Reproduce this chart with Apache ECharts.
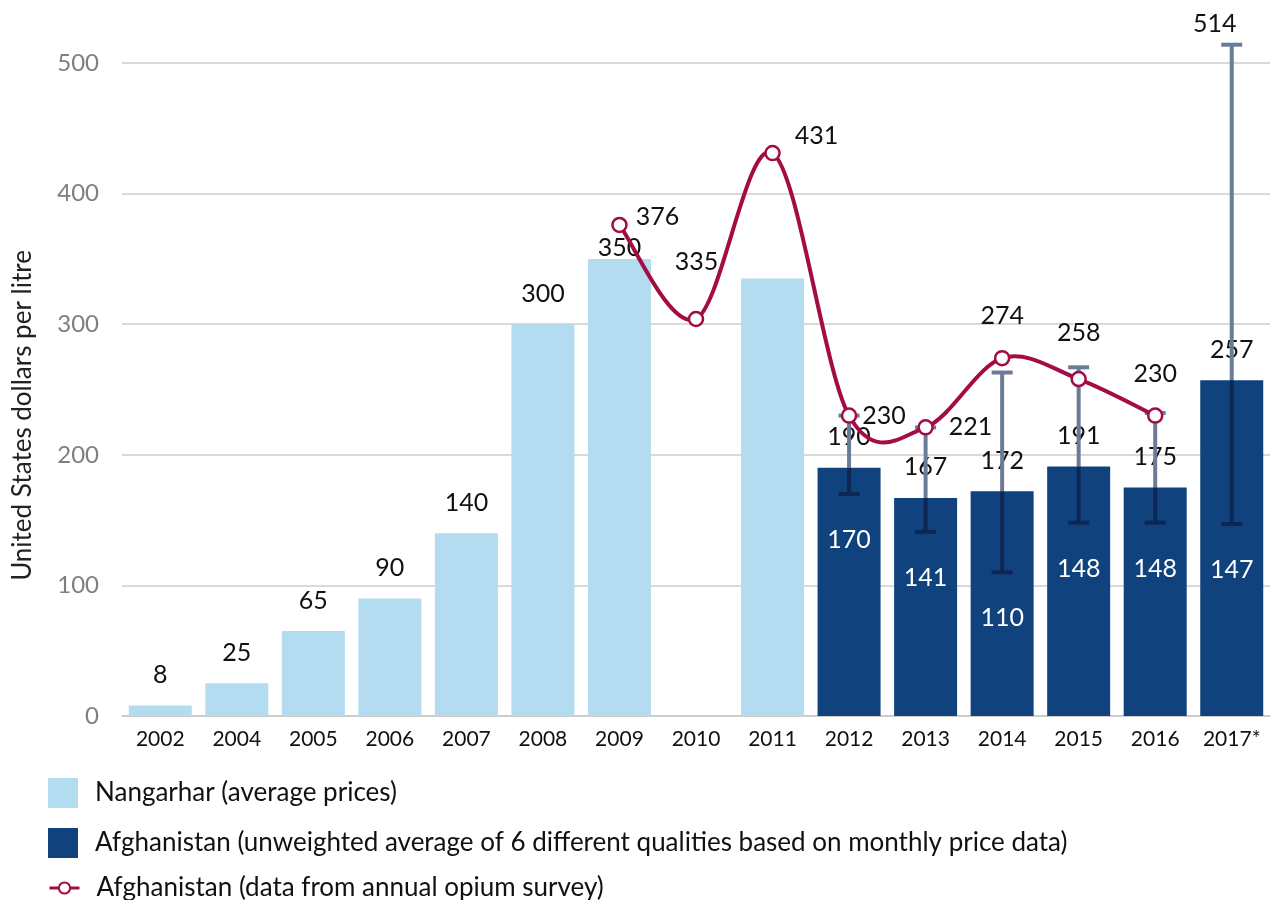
<!DOCTYPE html>
<html>
<head>
<meta charset="utf-8">
<script src="https://cdn.jsdelivr.net/npm/echarts@6/dist/echarts.min.js"></script>
<style>
  html, body { margin: 0; padding: 0; background: #fff; }
  #main { width: 1272px; height: 900px; }
</style>
</head>
<body>
<div id="main"></div>
<script>
// categories + values
var years = ['2002', '2004', '2005', '2006', '2007', '2008', '2009', '2010', '2011',
             '2012', '2013', '2014', '2015', '2016', '2017*'];
var nangarhar = [8, 25, 65, 90, 140, 300, 350, null, 335, null, null, null, null, null, null];
var afgMonthly = [null, null, null, null, null, null, null, null, null, 190, 167, 172, 191, 175, 257];
var afgSurvey = [null, null, null, null, null, null, 376, 304, 431, 230, 221, 274, 258, 230, null];
// min / max of the 6 qualities (error bars), 2012 - 2017*
var rangeYears = ['2012', '2013', '2014', '2015', '2016', '2017*'];
var rangeLow = [170, 141, 110, 148, 148, 147];
var rangeHigh = [230, 221, 263, 267, 232, 514];
var yTicks = [0, 100, 200, 300, 400, 500];

var NAME_N = 'Nangarhar (average prices)';
var NAME_M = 'Afghanistan (unweighted average of 6 different qualities based on monthly price data)';
var NAME_S = 'Afghanistan (data from annual opium survey)';

var LIGHT = '#b3dcf0';
var DARK = '#10427d';
var RED = '#a30c44';
var ERR_UP = '#6b7c98';
var ERR_IN = '#0d2754';
var FONT = 'Lato, "Open Sans", sans-serif';

var myChart = echarts.init(document.getElementById('main'));

// label tweaks, as in the original (moved labels)
var barLabelShift = { 6: [0, 20], 8: [-76, 14] };
var surveyLabelPos = {
  6: ['right', [0, -8]],
  8: ['right', [6, -17]],
  9: ['right', [-3, 0]],
  10: ['right', [7, 0]],
  11: ['top', [0, -13]],
  12: ['top', [0, -17]],
  13: ['top', [0, -13]]
};

var lightData = nangarhar.map(function (v, i) {
  if (v == null) return null;
  var item = { value: v };
  if (barLabelShift[i]) item.label = { offset: barLabelShift[i] };
  return item;
});

var surveyData = afgSurvey.map(function (v, i) {
  if (v == null) return null;
  var p = surveyLabelPos[i];
  if (!p) return { value: v, label: { show: false } };
  return { value: v, label: { position: p[0], offset: p[1] } };
});

var rangeData = rangeYears.map(function (y, i) {
  var idx = years.indexOf(y);
  return [idx, rangeLow[i], rangeHigh[i], afgMonthly[idx]];
});

function renderRange(params, api) {
  var x = api.coord([api.value(0), 0])[0];
  var lo = api.coord([api.value(0), api.value(1)])[1];
  var hi = api.coord([api.value(0), api.value(2)])[1];
  var top = api.coord([api.value(0), api.value(3)])[1];
  var cap = 10.5;
  var kids = [];
  // part above the bar (lighter), part inside the bar (darker)
  if (hi < top) {
    kids.push({ type: 'line', shape: { x1: x, y1: hi, x2: x, y2: top }, style: { stroke: ERR_UP, lineWidth: 4 } });
  }
  kids.push({ type: 'line', shape: { x1: x, y1: Math.max(hi, top), x2: x, y2: lo }, style: { stroke: ERR_IN, lineWidth: 4 } });
  kids.push({ type: 'line', shape: { x1: x - cap, y1: hi, x2: x + cap, y2: hi }, style: { stroke: hi < top ? ERR_UP : ERR_IN, lineWidth: 4 } });
  kids.push({ type: 'line', shape: { x1: x - cap, y1: lo, x2: x + cap, y2: lo }, style: { stroke: ERR_IN, lineWidth: 4 } });
  kids.push({
    type: 'text',
    style: { text: String(api.value(1)), x: x, y: lo + 46, align: 'center', verticalAlign: 'middle',
             fill: '#fff', font: '25px ' + FONT }
  });
  // high end only labelled where it runs off the axis
  if (api.value(2) > yTicks[yTicks.length - 1]) {
    kids.push({
      type: 'text',
      style: { text: String(api.value(2)), x: x - 17, y: hi - 21, align: 'center', verticalAlign: 'middle',
               fill: '#111', font: '25px ' + FONT }
    });
  }
  return { type: 'group', children: kids };
}

// excel-like smoothed line (catmull-rom through the survey points)
function renderCurve(params, api) {
  var pts = [];
  afgSurvey.forEach(function (v, i) {
    if (v != null) pts.push(api.coord([i, v]));
  });
  var kids = [];
  for (var i = 0; i < pts.length - 1; i++) {
    var p0 = pts[Math.max(i - 1, 0)], p1 = pts[i], p2 = pts[i + 1], p3 = pts[Math.min(i + 2, pts.length - 1)];
    kids.push({
      type: 'bezierCurve',
      shape: {
        x1: p1[0], y1: p1[1], x2: p2[0], y2: p2[1],
        cpx1: p1[0] + (p2[0] - p0[0]) / 6, cpy1: p1[1] + (p2[1] - p0[1]) / 6,
        cpx2: p2[0] - (p3[0] - p1[0]) / 6, cpy2: p2[1] - (p3[1] - p1[1]) / 6
      },
      style: { stroke: RED, lineWidth: 4, fill: 'none', lineCap: 'round' }
    });
  }
  return { type: 'group', children: kids };
}

var legendText = { fontFamily: FONT, fontSize: 26, color: '#111', padding: [0, 0, 0, 12] };

var option = {
  animation: false,
  grid: { left: 122, right: 2, top: 63, bottom: 184 },
  legend: [
    { left: 48, top: 778, padding: 0, itemWidth: 30, itemHeight: 30, textStyle: legendText,
      data: [{ name: NAME_N, icon: 'rect' }] },
    { left: 48, top: 828, padding: 0, itemWidth: 30, itemHeight: 30, textStyle: legendText,
      data: [{ name: NAME_M, icon: 'rect' }] },
    { left: 48, top: 875, padding: 0, itemWidth: 30, itemHeight: 14, textStyle: legendText,
      data: [{ name: NAME_S, lineStyle: { color: RED, width: 3, opacity: 1 } }] }
  ],
  xAxis: {
    type: 'category',
    data: years,
    axisTick: { show: false },
    axisLine: { lineStyle: { color: '#c8c8c8', width: 1.5 } },
    axisLabel: { color: '#111', fontFamily: FONT, fontSize: 21, margin: 13, interval: 0 }
  },
  yAxis: {
    type: 'value',
    min: yTicks[0],
    max: yTicks[yTicks.length - 1],
    interval: 100,
    name: 'United States dollars per litre',
    nameLocation: 'middle',
    nameGap: 86,
    nameTextStyle: { fontFamily: FONT, fontSize: 26, color: '#222', padding: [0, 52, 0, 0] },
    axisLine: { show: false },
    axisTick: { show: false },
    axisLabel: { color: '#7f7f7f', fontFamily: FONT, fontSize: 24, margin: 23 },
    splitLine: { lineStyle: { color: '#cccccc', width: 1.5 } }
  },
  series: [
    {
      name: NAME_N,
      type: 'bar',
      data: lightData,
      barWidth: 63,
      barGap: '-100%',
      itemStyle: { color: LIGHT },
      label: { show: true, position: 'top', distance: 18, color: '#111', fontFamily: FONT, fontSize: 25 }
    },
    {
      name: NAME_M,
      type: 'bar',
      data: afgMonthly,
      barWidth: 63,
      barGap: '-100%',
      itemStyle: { color: DARK },
      label: { show: true, position: 'top', distance: 18, color: '#111', fontFamily: FONT, fontSize: 25 }
    },
    {
      name: 'range',
      type: 'custom',
      data: rangeData,
      renderItem: renderRange,
      z: 3
    },
    {
      name: 'curve',
      type: 'custom',
      data: [0],
      renderItem: renderCurve,
      z: 4
    },
    {
      name: NAME_S,
      type: 'line',
      data: surveyData,
      symbol: 'circle',
      symbolSize: 14,
      lineStyle: { color: RED, width: 4, opacity: 0 },
      itemStyle: { color: '#fff', borderColor: RED, borderWidth: 2.5 },
      label: { show: true, distance: 8, color: '#111', fontFamily: FONT, fontSize: 25 },
      z: 5
    }
  ]
};

myChart.setOption(option);
window.onresize = myChart.resize;
</script>
</body>
</html>
